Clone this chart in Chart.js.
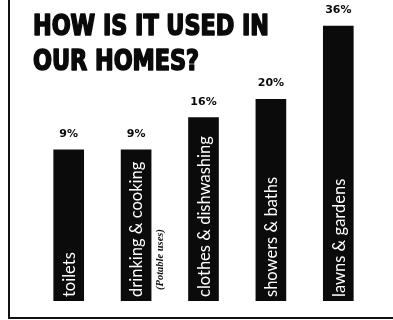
<!DOCTYPE html>
<html>
<head>
<meta charset="utf-8">
<script src="https://cdn.jsdelivr.net/npm/chart.js@4/dist/chart.umd.min.js"></script>
<style>
  html, body { margin: 0; padding: 0; background: #fff; }
  #wrap { position: relative; width: 393px; height: 320px; }
  #frame { position: absolute; left: 8px; top: 0; width: 385px; height: 319px;
           border-left: 2px solid #111; border-bottom: 2px solid #111; box-sizing: border-box; }
  canvas { position: absolute; left: 0; top: 0; }
</style>
</head>
<body>
<div id="wrap">
  <div id="frame"></div>
  <canvas id="c" width="393" height="320"></canvas>
</div>
<script>
// ---- data ----
const categories = ['toilets', 'drinking & cooking', 'clothes & dishwashing', 'showers & baths', 'lawns & gardens'];
const shares = [9, 9, 16, 20, 36];
const percentLabels = ['9%', '9%', '16%', '20%', '36%'];
const notes = ['', '(Potable uses)', '', '', ''];
const titleLines = ['HOW IS IT USED IN', 'OUR HOMES?'];

const axisMin = -24;   // the illustration's bars are not drawn from zero
const axisMax = 39.5;

const labelPlugin = {
  id: 'labels',
  afterDraw(chart) {
    const ctx = chart.ctx;
    // title
    ctx.save();
    ctx.fillStyle = '#0a0a0a';
    ctx.strokeStyle = '#0a0a0a';
    ctx.lineWidth = 1.6;
    ctx.lineJoin = 'round';
    ctx.font = 'bold 28px "DejaVu Sans Condensed", "DejaVu Sans", sans-serif';
    ctx.textBaseline = 'alphabetic';
    ctx.textAlign = 'left';
    const w1 = ctx.measureText(titleLines[0]).width;
    const sx = 236 / w1;
    [[titleLines[0], 35], [titleLines[1], 70]].forEach(([t, y]) => {
      ctx.save(); ctx.translate(33, y); ctx.scale(sx, 1);
      ctx.fillText(t, 0, 0); ctx.strokeText(t, 0, 0);
      ctx.restore();
    });
    ctx.restore();

    const meta = chart.getDatasetMeta(0);
    meta.data.forEach((bar, i) => {
      // percentage above the bar
      ctx.save();
      ctx.fillStyle = '#0a0a0a';
      ctx.font = 'bold 11px "DejaVu Sans", sans-serif';
      ctx.textAlign = 'center';
      ctx.textBaseline = 'middle';
      ctx.fillText(percentLabels[i], bar.x, bar.y - 16);
      ctx.restore();
      // category inside the bar, rotated
      ctx.save();
      ctx.translate(bar.x, bar.base - 4);
      ctx.rotate(-Math.PI / 2);
      ctx.fillStyle = '#ffffff';
      ctx.font = '16.5px Lato, sans-serif';
      ctx.textAlign = 'left';
      ctx.textBaseline = 'middle';
      ctx.fillText(categories[i], 0, 1);
      ctx.restore();
      // note beside the bar
      if (notes[i]) {
        ctx.save();
        ctx.translate(bar.x + 24, bar.base - 11);
        ctx.rotate(-Math.PI / 2);
        ctx.fillStyle = '#111';
        ctx.font = 'italic bold 10.5px "Liberation Serif", serif';
        ctx.textAlign = 'left';
        ctx.textBaseline = 'middle';
        ctx.fillText(notes[i], 0, 0);
        ctx.restore();
      }
    });
  }
};

new Chart(document.getElementById('c'), {
  type: 'bar',
  data: {
    labels: categories,
    datasets: [{
      data: shares,
      base: axisMin,
      backgroundColor: '#0b0b0b',
      borderWidth: 0,
      barThickness: 30
    }]
  },
  options: {
    responsive: false,
    devicePixelRatio: 1,
    animation: false,
    layout: { padding: { left: 35, right: 21, top: 10, bottom: 19 } },
    plugins: { legend: { display: false }, tooltip: { enabled: false }, title: { display: false } },
    scales: {
      x: { display: false },
      y: { display: false, min: axisMin, max: axisMax }
    }
  },
  plugins: [labelPlugin]
});
</script>
</body>
</html>
